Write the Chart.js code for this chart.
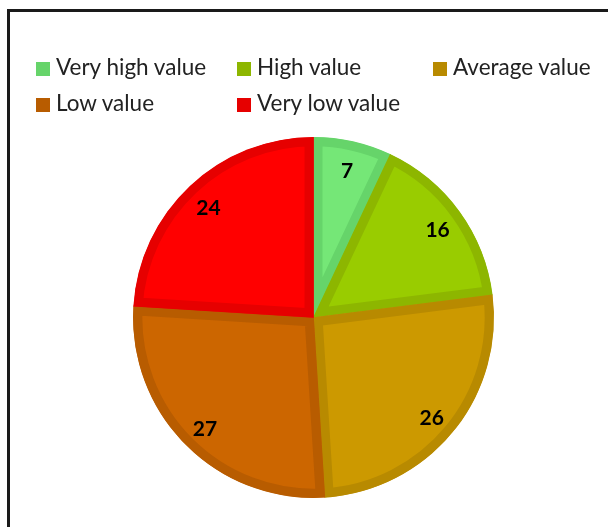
<!DOCTYPE html>
<html><head><meta charset="utf-8">
<script src="https://cdn.jsdelivr.net/npm/chart.js@4"></script>
<style>
html,body{margin:0;padding:0;background:#fff;}
#wrap{position:relative;width:608px;height:527px;overflow:hidden;}
#frame{position:absolute;left:7px;top:9px;width:700px;height:700px;border-left:3px solid #1a1a1a;border-top:3px solid #1a1a1a;}
#c{position:absolute;left:0;top:0;}
.lg{position:absolute;font-family:Lato,"Open Sans",sans-serif;font-size:22.5px;color:#222;white-space:nowrap;line-height:24px;}
.lg span{display:inline-block;width:14px;height:14px;margin-right:6px;vertical-align:-1px;}
</style></head>
<body><div id="wrap"><div id="frame"></div><canvas id="c" width="608" height="527"></canvas></div>
<script>
const categories = ["Very high value","High value","Average value","Low value","Very low value"];
const values = [7,16,26,27,24];
const fillColors = ["#75E777","#99CC00","#CC9900","#CC6600","#FF0000"];
const borderColors = ["#66D46A","#8DB600","#B88A00","#B85C00","#E60000"];
const legendPos = [[36,55],[237,55],[433,55],[36,91],[237,91]];

const wrap = document.getElementById('wrap');
categories.forEach((c,i)=>{
  const d=document.createElement('div');d.className='lg';
  d.style.left=legendPos[i][0]+'px';d.style.top=legendPos[i][1]+'px';
  d.innerHTML='<span style="background:'+borderColors[i]+'"></span>'+c;
  wrap.appendChild(d);
});

const labelPlugin = {
  id:'lbl',
  afterDatasetsDraw(chart){
    const ctx=chart.ctx;const meta=chart.getDatasetMeta(0);
    ctx.save();ctx.font='bold 21px Lato, "Open Sans", sans-serif';ctx.fillStyle='#000';
    ctx.textAlign='center';ctx.textBaseline='middle';
    meta.data.forEach((arc,i)=>{
      const p=arc.getProps(['x','y','startAngle','endAngle','outerRadius'],true);
      const a=(p.startAngle+p.endAngle)/2;const r=p.outerRadius*0.85;
      ctx.fillText(String(values[i]),p.x+Math.cos(a)*r,p.y+Math.sin(a)*r+3);
    });
    ctx.restore();
  }
};

new Chart(document.getElementById('c'),{
  type:'pie',
  data:{labels:categories,datasets:[{data:values,backgroundColor:fillColors,borderColor:borderColors,borderWidth:9,borderAlign:'inner'}]},
  options:{responsive:false,animation:false,
    layout:{padding:{top:137,bottom:29,left:133,right:114}},
    plugins:{legend:{display:false},tooltip:{enabled:false}}},
  plugins:[labelPlugin]
});
</script></body></html>
